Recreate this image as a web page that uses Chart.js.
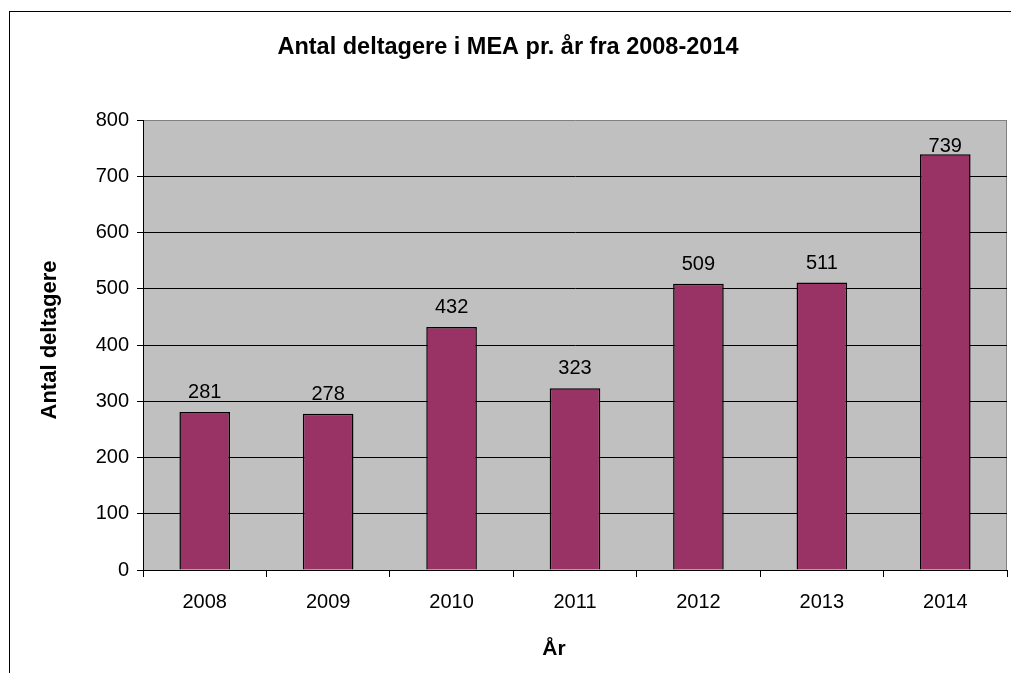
<!DOCTYPE html>
<html>
<head>
<meta charset="utf-8">
<script src="https://cdn.jsdelivr.net/npm/chart.js@4.4.1/dist/chart.umd.min.js"></script>
<style>
  html, body { margin: 0; padding: 0; background: #fff; }
  canvas { display: block; }
</style>
</head>
<body>
<canvas id="deltagere" width="1011" height="673"></canvas>
<script>
// Data
const years = ['2008', '2009', '2010', '2011', '2012', '2013', '2014'];
const participants = [281, 278, 432, 323, 509, 511, 739];
const yMin = 0;
const yMax = 800;
const yStep = 100;

const titleText = 'Antal deltagere i MEA pr. år fra 2008-2014';
const yTitleText = 'Antal deltagere';
const xTitleText = 'År';

const fontFamily = "'Liberation Sans', Arial, sans-serif";

// frame, plot background, titles and value labels
const excelLook = {
  id: 'excelLook',
  beforeDraw(chart) {
    const { ctx, chartArea: a } = chart;
    ctx.save();
    ctx.fillStyle = '#fff';
    ctx.fillRect(0, 0, chart.width, chart.height);
    ctx.strokeStyle = '#000';
    ctx.lineWidth = 1;
    ctx.strokeRect(9.5, 11.5, chart.width + 20, chart.height + 20);
    ctx.fillStyle = '#c0c0c0';
    ctx.fillRect(a.left, a.top, a.right - a.left, a.bottom - a.top);
    ctx.strokeStyle = '#808080';
    ctx.beginPath();
    ctx.moveTo(a.right - 0.5, a.top);
    ctx.lineTo(a.right - 0.5, a.bottom);
    ctx.stroke();
    ctx.restore();
  },
  afterDatasetsDraw(chart) {
    const { ctx, chartArea: a } = chart;
    const meta = chart.getDatasetMeta(0);
    ctx.save();
    ctx.fillStyle = '#000';
    ctx.font = '20px ' + fontFamily;
    ctx.textAlign = 'center';
    ctx.textBaseline = 'alphabetic';
    meta.data.forEach((bar, i) => {
      const y = Math.max(bar.y - 14, a.top + 32);
      ctx.fillText(String(participants[i]), bar.x, y);
    });
    ctx.restore();
  },
  afterDraw(chart) {
    const { ctx } = chart;
    ctx.save();
    ctx.fillStyle = '#000';
    ctx.textAlign = 'center';
    ctx.textBaseline = 'middle';
    ctx.font = 'bold 23.5px ' + fontFamily;
    ctx.fillText(titleText, 508, 48);
    ctx.font = 'bold 21px ' + fontFamily;
    ctx.fillText(xTitleText, 554, 649);
    ctx.font = 'bold 22px ' + fontFamily;
    ctx.translate(50, 340);
    ctx.rotate(-Math.PI / 2);
    ctx.fillText(yTitleText, 0, 0);
    ctx.restore();
  }
};

const chart = new Chart(document.getElementById('deltagere'), {
  type: 'bar',
  data: {
    labels: years,
    datasets: [{
      label: yTitleText,
      data: participants,
      backgroundColor: '#993366',
      borderColor: '#000',
      borderWidth: 1.5,
      categoryPercentage: 1,
      barPercentage: 0.41
    }]
  },
  options: {
    responsive: false,
    animation: false,
    layout: {
      padding: { left: 0, top: 120, right: 4, bottom: 0 }
    },
    plugins: {
      legend: { display: false },
      title: { display: false },
      tooltip: { enabled: false }
    },
    scales: {
      x: {
        offset: true,
        afterFit: (scale) => { scale.height = 103; },
        grid: {
          offset: true,
          drawOnChartArea: false,
          drawTicks: true,
          tickLength: 7,
          tickColor: '#000'
        },
        border: { color: '#000', width: 1 },
        ticks: {
          color: '#000',
          padding: 13,
          maxRotation: 0,
          font: { family: fontFamily, size: 20 }
        }
      },
      y: {
        min: yMin,
        max: yMax,
        afterFit: (scale) => { scale.width = 143; },
        grid: {
          color: (c) => (c.tick && c.tick.value === yMax ? '#808080' : '#000'),
          tickColor: '#000',
          tickLength: 6
        },
        border: { color: '#000', width: 1 },
        ticks: {
          stepSize: yStep,
          color: '#000',
          padding: 8,
          font: { family: fontFamily, size: 20 }
        }
      }
    }
  },
  plugins: [excelLook]
});
</script>
</body>
</html>
